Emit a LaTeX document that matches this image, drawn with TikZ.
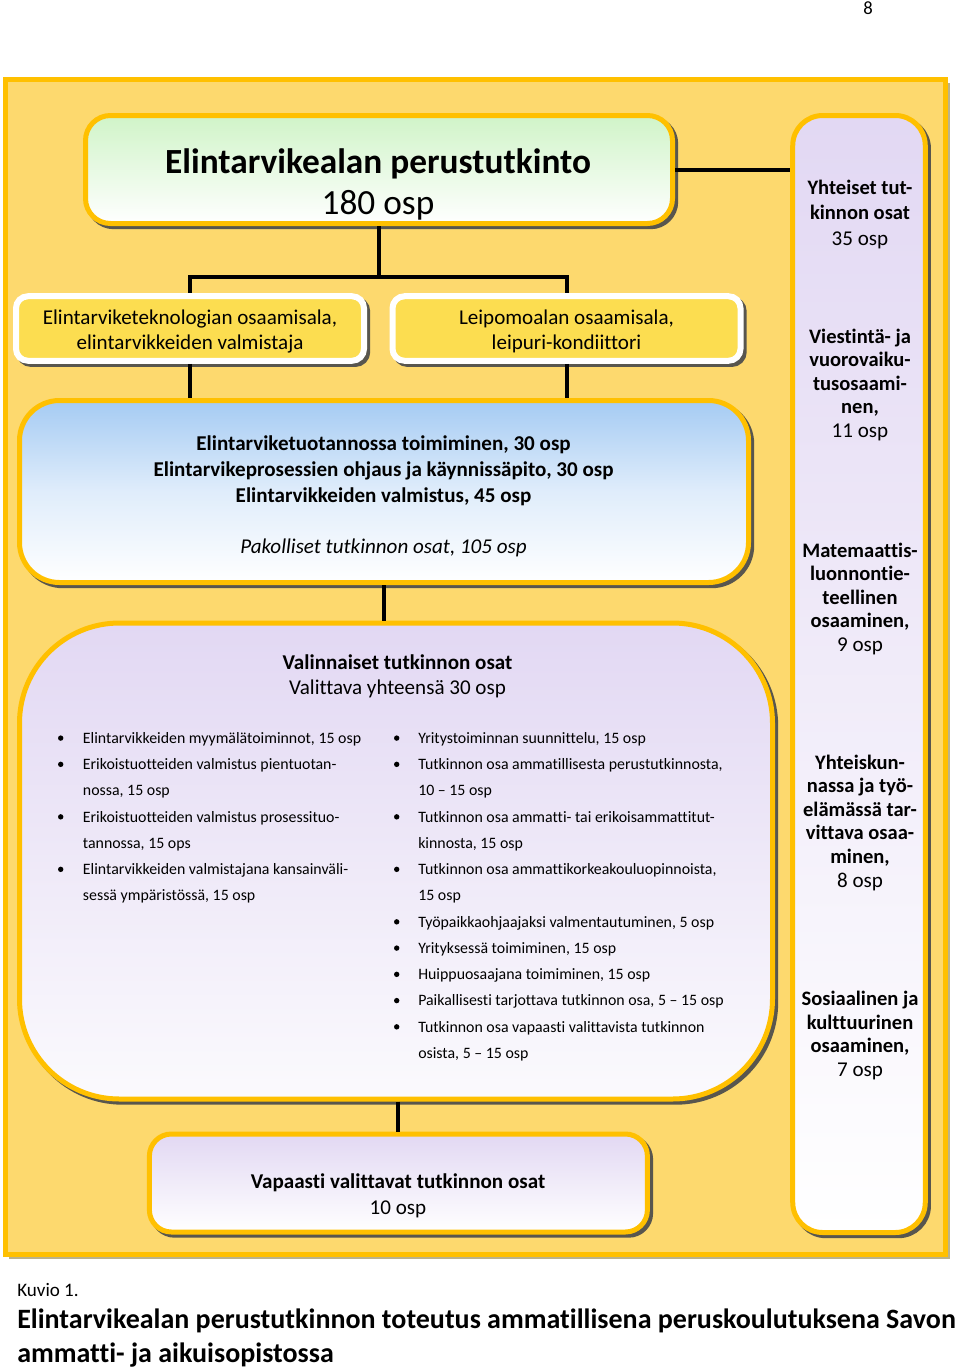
\documentclass[tikz,border=0pt]{standalone}
\usepackage{fontspec}
\setmainfont{Carlito}[Ligatures={TeX,NoCommon}]
\usetikzlibrary{shadows}
\definecolor{gold}{RGB}{255,192,0}
\definecolor{bgyellow}{RGB}{253,217,110}
\definecolor{shadowgray}{RGB}{88,86,78}
\definecolor{outershadow}{RGB}{185,178,140}
\definecolor{greentop}{RGB}{208,244,200}
\definecolor{bluetop}{RGB}{165,203,243}
\definecolor{lavtop}{RGB}{226,216,243}
\definecolor{lavbot}{RGB}{251,250,253}
\definecolor{osafill}{RGB}{252,221,80}
\newcommand{\fsz}[2]{\fontsize{#1}{#2}\selectfont}
\begin{document}
\begin{tikzpicture}[x=0.75pt,y=-0.75pt,
  box/.style={rectangle, inner sep=0pt, draw=gold, line width=3.75pt,
    drop shadow={shadow xshift=2.4pt, shadow yshift=-2.4pt, fill=shadowgray,
      draw=shadowgray, line width=3.75pt, opacity=1}},
  osabox/.style={rectangle, inner sep=0pt, draw=white, line width=4.5pt, fill=osafill,
    rounded corners=9pt, minimum width=261pt, minimum height=48.4pt,
    drop shadow={shadow xshift=2.4pt, shadow yshift=-2.4pt, fill=shadowgray,
      draw=shadowgray, line width=4.5pt, opacity=1}},
  conn/.style={draw=black, line width=3pt},
  txt/.style={inner sep=0pt, anchor=base},
  ltxt/.style={inner sep=0pt, anchor=base west},
  big/.style={font=\fsz{15.8pt}{19pt}},
  bigb/.style={font=\fsz{15.8pt}{19pt}\bfseries},
  colb/.style={font=\fsz{15.4pt}{19pt}\bfseries},
  small/.style={font=\fsz{11.9pt}{14pt}},
]
\useasboundingbox (0,0) rectangle (960,1371);

% page number
\node[txt, font=\fsz{14pt}{16pt}] (pagenum) at (868,14) {8};

% outer frame
\fill[outershadow] (9,83) rectangle (949.5,1258.5);
\node[rectangle, inner sep=0pt, draw=gold, line width=3.75pt, fill=bgyellow,
  minimum width=704.8pt, minimum height=881.5pt] (frame) at (475.65,666.85) {};

% boxes
\node[box, rounded corners=18.75pt, top color=greentop, bottom color=white,
  minimum width=440.25pt, minimum height=81pt] (title) at (379,169.5) {};
\node[box, rounded corners=22.5pt, top color=lavtop, bottom color=white,
  minimum width=99.4pt, minimum height=837.75pt] (yht) at (859,674) {};
\node[osabox] (osa1) at (190,328.5) {};
\node[osabox] (osa2) at (566.5,328.5) {};
\node[box, rounded corners=30pt, top color=bluetop, bottom color=white, middle color=bluetop!35!white,
  minimum width=546.75pt, minimum height=136.5pt] (pak) at (384,491.5) {};
\node[box, rounded corners=75pt, top color=lavtop, bottom color=lavbot,
  minimum width=564.75pt, minimum height=357pt] (val) at (396,861) {};
\node[box, rounded corners=16.5pt, top color=lavtop, bottom color=white,
  minimum width=373.5pt, minimum height=73.5pt] (vap) at (398.4,1183) {};

% connectors
\coordinate (hub) at (379,277);
\draw[conn] (title.south) -- (hub);
\draw[conn] (hub) -| (osa1.north);
\draw[conn] (hub) -| (osa2.north);
\draw[conn] (title.east) -- (title.east -| yht.west);
\draw[conn] (osa1.south) -- (osa1.south |- pak.north);
\draw[conn] (osa2.south) -- (osa2.south |- pak.north);
\draw[conn] (pak.south) -- (pak.south |- val.north);
\draw[conn] (vap.north |- val.south) -- (vap.north);

% title text
\node[txt, font=\fsz{26.5pt}{30pt}\bfseries] (t1) at (378,173.5) {Elintarvikealan perustutkinto};
\node[txt, font=\fsz{26.5pt}{30pt}] (t2) at (378,214) {180 osp};

% osaamisala texts
\node[txt, big] (o1a) at (190,324.3) {Elintarviketeknologian osaamisala,};
\node[txt, big] (o1b) at (190,349) {elintarvikkeiden valmistaja};
\node[txt, big] (o2a) at (566.5,324.3) {Leipomoalan osaamisala,};
\node[txt, big] (o2b) at (566.5,349) {leipuri-kondiittori};

% pakolliset
\node[txt, bigb] (p1) at (383.5,450) {Elintarviketuotannossa toimiminen, 30 osp};
\node[txt, bigb] (p2) at (383.5,476) {Elintarvikeprosessien ohjaus ja käynnissäpito, 30 osp};
\node[txt, bigb] (p3) at (383.5,502) {Elintarvikkeiden valmistus, 45 osp};
\node[txt, font=\fsz{15.8pt}{19pt}\itshape] (p4) at (383.5,553) {Pakolliset tutkinnon osat, 105 osp};

% valinnaiset
\node[txt, bigb] (v1) at (397.5,669) {Valinnaiset tutkinnon osat};
\node[txt, big] (v2) at (397.5,694.5) {Valittava yhteensä 30 osp};

\foreach \k/\b/\t in {0/1/{Elintarvikkeiden myymälätoiminnot, 15 osp},
  1/1/{Erikoistuotteiden valmistus pientuotan-},
  2/0/{nossa, 15 osp},
  3/1/{Erikoistuotteiden valmistus prosessituo-},
  4/0/{tannossa, 15 ops},
  5/1/{Elintarvikkeiden valmistajana kansainväli-},
  6/0/{sessä ympäristössä, 15 osp}}{
  \node[ltxt, small] (lb\k) at (82.7,743.3+26.25*\k) {\t};
  \ifnum\b=1 \fill (60.7,743.3+26.25*\k-5.2) circle (2.7);\fi
}
\foreach \k/\b/\t in {0/1/{Yritystoiminnan suunnittelu, 15 osp},
  1/1/{Tutkinnon osa ammatillisesta perustutkinnosta,},
  2/0/{10 – 15 osp},
  3/1/{Tutkinnon osa ammatti- tai erikoisammattitut-},
  4/0/{kinnosta, 15 osp},
  5/1/{Tutkinnon osa ammattikorkeakouluopinnoista,},
  6/0/{15 osp},
  7/1/{Työpaikkaohjaajaksi valmentautuminen, 5 osp},
  8/1/{Yrityksessä toimiminen, 15 osp},
  9/1/{Huippuosaajana toimiminen, 15 osp},
  10/1/{Paikallisesti tarjottava tutkinnon osa, 5 – 15 osp},
  11/1/{Tutkinnon osa vapaasti valittavista tutkinnon},
  12/0/{osista, 5 – 15 osp}}{
  \node[ltxt, small] (rb\k) at (418,743.3+26.25*\k) {\t};
  \ifnum\b=1 \fill (396.7,743.3+26.25*\k-5.2) circle (2.7);\fi
}

% vapaasti
\node[txt, bigb] (f1) at (398,1188.5) {Vapaasti valittavat tutkinnon osat};
\node[txt, big] (f2) at (398,1214) {10 osp};

% right column
\node[txt, colb] (y1) at (860,194) {Yhteiset tut-};
\node[txt, colb] (y2) at (860,219.5) {kinnon osat};
\node[txt, big] (y3) at (860,245) {35 osp};

\node[txt, colb] (c1) at (860,343) {Viestintä- ja};
\node[txt, colb] (c2) at (860,366.6) {vuorovaiku-};
\node[txt, colb] (c3) at (860,390.2) {tusosaami-};
\node[txt, colb] (c4) at (860,413.8) {nen,};
\node[txt, big] (c5) at (860,437.4) {11 osp};

\node[txt, colb] (m1) at (860,557) {Matemaattis-};
\node[txt, colb] (m2) at (860,580.6) {luonnontie-};
\node[txt, colb] (m3) at (860,604.2) {teellinen};
\node[txt, colb] (m4) at (860,627.8) {osaaminen,};
\node[txt, big] (m5) at (860,651.4) {9 osp};

\node[txt, colb] (s1) at (860,769) {Yhteiskun-};
\node[txt, colb] (s2) at (860,792.6) {nassa ja työ-};
\node[txt, colb] (s3) at (860,816.2) {elämässä tar-};
\node[txt, colb] (s4) at (860,839.8) {vittava osaa-};
\node[txt, colb] (s5) at (860,863.4) {minen,};
\node[txt, big] (s6) at (860,887) {8 osp};

\node[txt, colb] (k1) at (860,1005.5) {Sosiaalinen ja};
\node[txt, colb] (k2) at (860,1029.1) {kulttuurinen};
\node[txt, colb] (k3) at (860,1052.7) {osaaminen,};
\node[txt, big] (k4) at (860,1076.3) {7 osp};

% caption
\node[ltxt, font=\fsz{14.3pt}{17pt}] (cap1) at (17,1296.7) {Kuvio 1.};
\node[ltxt, font=\fsz{21pt}{25pt}\bfseries] (cap2) at (17,1328.5) {Elintarvikealan perustutkinnon toteutus ammatillisena peruskoulutuksena Savon};
\node[ltxt, font=\fsz{21pt}{25pt}\bfseries] (cap3) at (17,1362) {ammatti- ja aikuisopistossa};
\end{tikzpicture}
\end{document}
